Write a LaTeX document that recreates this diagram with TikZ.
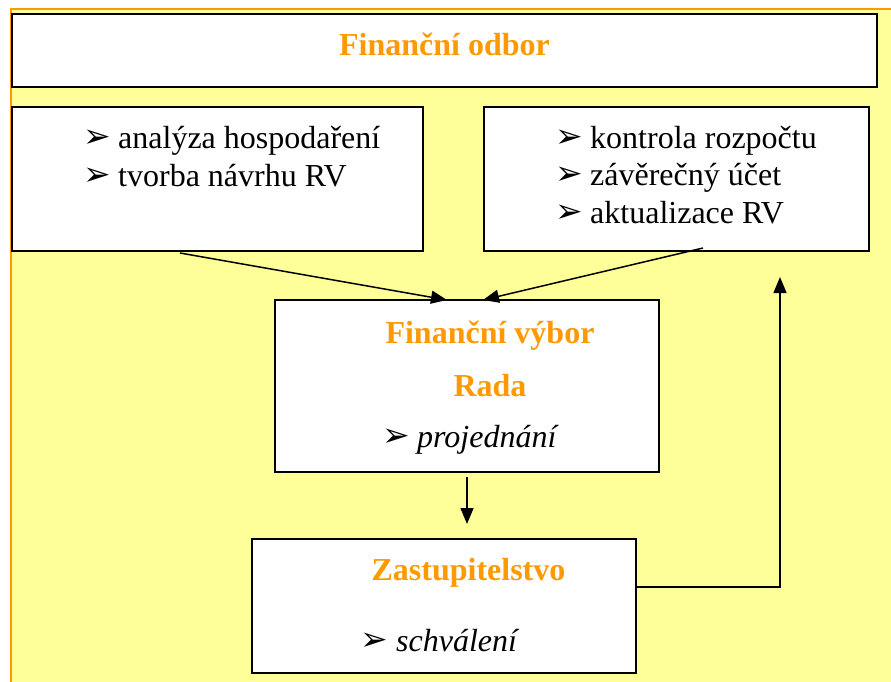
\documentclass[tikz,border=0pt]{standalone}
\usepackage{fontspec}
\setmainfont{Liberation Serif}
\newfontfamily\dejavu{DejaVu Sans}
\usetikzlibrary{arrows.meta}
\definecolor{bgyellow}{HTML}{FFFF99}
\definecolor{titleorange}{HTML}{FF9900}
\begin{document}
\begin{tikzpicture}[x=1pt,y=-1pt,
  box/.style={draw=black,fill=white,line width=1.8pt,inner sep=0pt,outer sep=0pt,rectangle},
  titletext/.style={font=\fontsize{32}{38}\selectfont\bfseries,text=titleorange,anchor=base,inner sep=0pt},
  itemtext/.style={font=\fontsize{32}{38}\selectfont,anchor=base west,inner sep=0pt},
  ittext/.style={font=\fontsize{32}{38}\selectfont\itshape,anchor=base west,inner sep=0pt},
  bul/.style={font=\dejavu\fontsize{33}{36}\selectfont,anchor=base west,inner sep=0pt,yshift=1pt},
  conn/.style={line width=1.5pt,-{Triangle[length=16pt,width=13pt]}}
]
\useasboundingbox (0,0) rectangle (891,682);
\fill[bgyellow] (11,9.5) rectangle (891,682);
\draw[titleorange,line width=2pt] (11,682) -- (11,9.5) -- (891,9.5);

% boxes
\node[box,minimum width=865pt,minimum height=73pt] (odbor) at (444.5,50.5) {};
\node[box,minimum width=411pt,minimum height=144pt] (left) at (217.5,179) {};
\node[box,minimum width=385pt,minimum height=144pt] (right) at (676.5,179) {};
\node[box,minimum width=384pt,minimum height=172pt] (mid) at (467,386) {};
\node[box,minimum width=384pt,minimum height=134pt] (bot) at (444,606) {};

% title
\node[titletext] (t1) at (444.5,56) {Finanční odbor};

% left box
\node[bul] (bl1) at (83,148) {➢};
\node[itemtext] (l1) at (118,148) {analýza hospodaření};
\node[bul] (bl2) at (83,186) {➢};
\node[itemtext] (l2) at (118,186) {tvorba návrhu RV};

% right box
\node[bul] (br1) at (555,148) {➢};
\node[itemtext] (r1) at (590,148) {kontrola rozpočtu};
\node[bul] (br2) at (555,185.5) {➢};
\node[itemtext] (r2) at (590,185.5) {závěrečný účet};
\node[bul] (br3) at (555,223) {➢};
\node[itemtext] (r3) at (590,223) {aktualizace RV};

% middle box
\node[titletext] (m1) at (490,343) {Finanční výbor};
\node[titletext] (m2) at (490,396) {Rada};
\node[bul] (bm) at (382,447) {➢};
\node[ittext] (m3) at (417,447) {projednání};

% bottom box
\node[titletext] (z1) at (468.5,580) {Zastupitelstvo};
\node[bul] (bz) at (360,651) {➢};
\node[ittext] (z2) at (396,651) {schválení};

% connectors
\coordinate (s1) at (180,253);
\coordinate (e1) at (447,300);
\coordinate (s2) at (703,248);
\coordinate (e2) at (483,300);
\draw[conn] (s1) -- (e1);
\draw[conn] (s2) -- (e2);
\coordinate (d0) at (467,477);
\coordinate (d1) at (467,524);
\draw[conn] (d0) -- (d1);
\coordinate (fb0) at (636,587);
\coordinate (fb1) at (780,587);
\coordinate (fb2) at (780,277);
\draw[conn] (fb0) -- (fb1) -- (fb2);
\end{tikzpicture}
\end{document}
